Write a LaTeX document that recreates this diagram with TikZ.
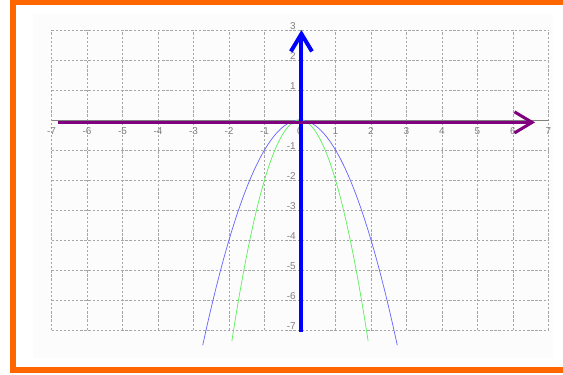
\documentclass[tikz,border=0pt]{standalone}
\usepackage{fontspec}
\setsansfont{Liberation Sans}
\usetikzlibrary{arrows.meta}
\definecolor{frameorange}{RGB}{255,102,0}
\definecolor{axispurple}{RGB}{128,0,128}
\definecolor{axisblue}{RGB}{0,0,255}
\definecolor{curveblue}{RGB}{100,100,255}
\definecolor{curvegreen}{RGB}{90,240,90}
\definecolor{panelgray}{RGB}{252,252,252}
\tikzset{
  gridline/.style={gray!70, dash pattern=on 2pt off 1.5pt, line width=0.5pt},
  ticklabel/.style={font=\sffamily\fontsize{8.5}{10}\selectfont, text=gray, inner sep=0.5pt},
  axisarrow/.style={-{Straight Barb[length=15pt,width=18pt]}},
  curve/.style={line width=0.6pt},
}
\begin{document}
\begin{tikzpicture}[x=1.065cm, y=0.9cm]
  \useasboundingbox (-8.451,4) rectangle (7.408,-8.467);
  % frame and panel
  \fill[panelgray] (-7.521,3.533) rectangle (7.127,-7.933);
  \draw[frameorange, line width=4.3pt] (-8.085,3.917) rectangle (7.53,-8.333);
  % grid
  \foreach \x in {-7,...,7} \draw[gridline] (\x,-7) -- (\x,3);
  \foreach \y in {-7,...,3} \draw[gridline] (-7,\y) -- (7,\y);
  \draw[gray, line width=0.6pt] (-7,0) -- (7,0);
  % tick labels
  \foreach \x in {-7,...,7}
    \node[ticklabel] (xl\x) at (\x,-0.37) {\x};
  \foreach \y in {-7,...,-1,1,2,3}
    \node[ticklabel, anchor=east] (yl\y) at (-0.1,\y+0.14) {\y};
  % curves
  \draw[curve, curveblue, domain=-2.74:2.74, samples=80] plot (\x,{-\x*\x});
  \draw[curve, curvegreen, domain=-1.92:1.92, samples=80] plot (\x,{-2*\x*\x});
  % axes
  \coordinate (ybot) at (0.04,-7.07);
  \coordinate (ytop) at (0.04,3.0);
  \coordinate (xleft) at (-6.82,-0.08);
  \coordinate (xright) at (6.62,-0.08);
  \draw[axisblue, line width=3.4pt, axisarrow] (ybot) -- (ytop);
  \draw[axispurple, line width=2.6pt, axisarrow] (xleft) -- (xright);
\end{tikzpicture}
\end{document}
